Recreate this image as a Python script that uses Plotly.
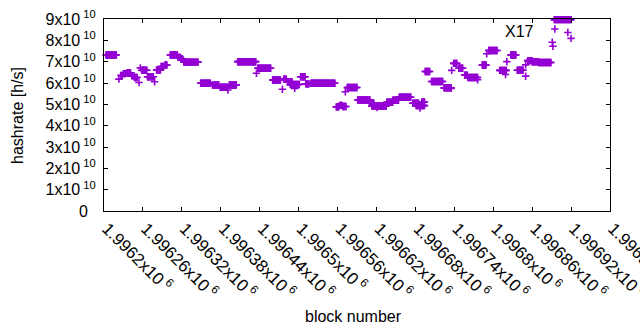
import plotly.graph_objects as go

# Runs of consecutive blocks sharing (roughly) the same hashrate estimate, in units of 1e10 h/s
run_first_block = [1996203, 1996226, 1996230, 1996235, 1996243, 1996247, 1996258, 1996267,
                   1996281, 1996288, 1996294, 1996302, 1996314, 1996319, 1996323, 1996349,
                   1996367, 1996379, 1996393, 1996406, 1996437, 1996460, 1996477, 1996483,
                   1996487, 1996503, 1996511, 1996519, 1996558, 1996563, 1996568, 1996575,
                   1996591, 1996609, 1996613, 1996636, 1996645, 1996655, 1996676, 1996681,
                   1996690, 1996695, 1996705, 1996724, 1996739, 1996747, 1996756, 1996761,
                   1996783, 1996793, 1996810, 1996827, 1996837, 1996853, 1996860, 1996870,
                   1996894]
run_last_block = [1996219, 1996228, 1996233, 1996241, 1996246, 1996251, 1996266, 1996276,
                  1996287, 1996292, 1996297, 1996313, 1996318, 1996321, 1996345, 1996364,
                  1996377, 1996390, 1996404, 1996434, 1996457, 1996472, 1996481, 1996490,
                  1996501, 1996510, 1996516, 1996556, 1996562, 1996567, 1996573, 1996590,
                  1996610, 1996616, 1996635, 1996645, 1996654, 1996673, 1996685, 1996694,
                  1996694, 1996702, 1996722, 1996735, 1996744, 1996753, 1996760, 1996776,
                  1996789, 1996806, 1996820, 1996835, 1996846, 1996860, 1996870, 1996889,
                  1996920]
run_hashrate_e10 = [7.31, 6.35, 6.44, 6.47, 6.34, 6.26, 6.60, 6.29,
                    6.61, 6.77, 6.84, 7.31, 7.20, 7.13, 6.98, 5.99,
                    5.91, 5.80, 5.91, 7.00, 6.69, 6.14, 6.18, 6.05,
                    5.93, 6.29, 5.96, 5.99, 4.88, 4.95, 4.90, 5.79,
                    5.20, 5.05, 4.92, 5.10, 5.19, 5.33, 5.05, 4.94,
                    5.11, 6.54, 6.07, 5.77, 6.92, 6.69, 6.37, 6.26,
                    6.84, 7.52, 6.59, 7.31, 6.60, 7.05, 7.00, 6.96,
                    8.97]

# Isolated outlier blocks
single_block = [1996223, 1996254, 1996256, 1996278, 1996391, 1996435, 1996475, 1996494,
                1996572, 1996621, 1996687, 1996736, 1996735, 1996776, 1996790, 1996819,
                1996821, 1996850, 1996850, 1996891, 1996892, 1996895, 1996915, 1996920]
single_hashrate_e10 = [6.18, 6.02, 6.71, 6.06, 5.67, 6.46, 5.71, 5.75,
                       5.59, 4.85, 4.83, 6.59, 5.75, 6.15, 7.37, 6.40,
                       7.00, 6.32, 6.85, 7.91, 7.72, 8.53, 8.37, 8.09]

x_tick_blocks = [1996200, 1996260, 1996320, 1996380, 1996440, 1996500, 1996560,
                 1996620, 1996680, 1996740, 1996800, 1996860, 1996920, 1996980]
x_tick_mantissa = ["1.9962", "1.99626", "1.99632", "1.99638", "1.99644", "1.9965", "1.99656",
                   "1.99662", "1.99668", "1.99674", "1.9968", "1.99686", "1.99692", "1.99698"]
y_tick_values = [0, 1e10, 2e10, 3e10, 4e10, 5e10, 6e10, 7e10, 8e10, 9e10]
y_tick_mantissa = ["0", "1", "2", "3", "4", "5", "6", "7", "8", "9"]

label_text = "X17"
label_block = 1996815
label_hashrate = 8.42e10

assert len(run_first_block) == len(run_last_block) == len(run_hashrate_e10)

xs, ys = [], []
for a, b, v in zip(run_first_block, run_last_block, run_hashrate_e10):
    for blk in range(a, b + 1):
        xs.append(blk)
        ys.append(v * 1e10)
for blk, v in zip(single_block, single_hashrate_e10):
    xs.append(blk)
    ys.append(v * 1e10)

FONT = "Liberation Sans, Arial, sans-serif"
PURPLE = "#9400D3"

fig = go.Figure()
fig.add_trace(go.Scatter(
    x=xs, y=ys, mode="markers", cliponaxis=False,
    marker=dict(symbol="cross-thin", size=5.3, color=PURPLE,
                line=dict(color=PURPLE, width=1.6)),
    showlegend=False, hoverinfo="skip"))

x_ticktext = [m + "x10<sup>\u00a06</sup>" for m in x_tick_mantissa]
y_ticktext = ["0\u2002" if m == "0" else m + "x10<sup>\u00a010</sup>" for m in y_tick_mantissa]

fig.update_layout(
    width=640, height=330,
    margin=dict(l=104, r=30, t=19, b=119),
    paper_bgcolor="white", plot_bgcolor="white",
    font=dict(family=FONT, size=16, color="#000000"),
    xaxis=dict(range=[1996200, 1996980], tickmode="array", tickvals=x_tick_blocks,
               ticktext=x_ticktext, tickangle=45, ticks="inside", ticklen=4,
               tickcolor="black", showline=True, linecolor="black", linewidth=1,
               mirror="ticks", showgrid=False, zeroline=False, automargin=False,
               ticklabeloverflow="allow", ticklabelshift=3,
               tickfont=dict(family=FONT, size=17, color="#000000")),
    yaxis=dict(range=[0, 9e10], tickmode="array", tickvals=y_tick_values,
               ticktext=y_ticktext, ticks="inside", ticklen=4, tickcolor="black",
               showline=True, linecolor="black", linewidth=1, mirror="ticks",
               showgrid=False, zeroline=False, automargin=False,
               ticklabeloverflow="allow", ticklabelstandoff=4,
               tickfont=dict(family=FONT, size=16, color="#000000")),
    annotations=[
        dict(text="hashrate [h/s]", xref="paper", yref="paper", x=-0.172, y=0.5,
             textangle=-90, showarrow=False, xanchor="center", yanchor="middle",
             font=dict(family=FONT, size=16, color="#000000")),
        dict(text="block number", xref="paper", yref="paper", x=0.494, y=-0.547,
             showarrow=False, xanchor="center", yanchor="middle",
             font=dict(family=FONT, size=16, color="#000000")),
        dict(text=label_text, x=label_block, y=label_hashrate, xref="x", yref="y",
             showarrow=False, xanchor="left", yanchor="middle",
             font=dict(family=FONT, size=16, color="#000000")),
    ],
)

fig.write_html("out.html", config={"displayModeBar": False},
               post_script="document.body.style.margin='0';")
